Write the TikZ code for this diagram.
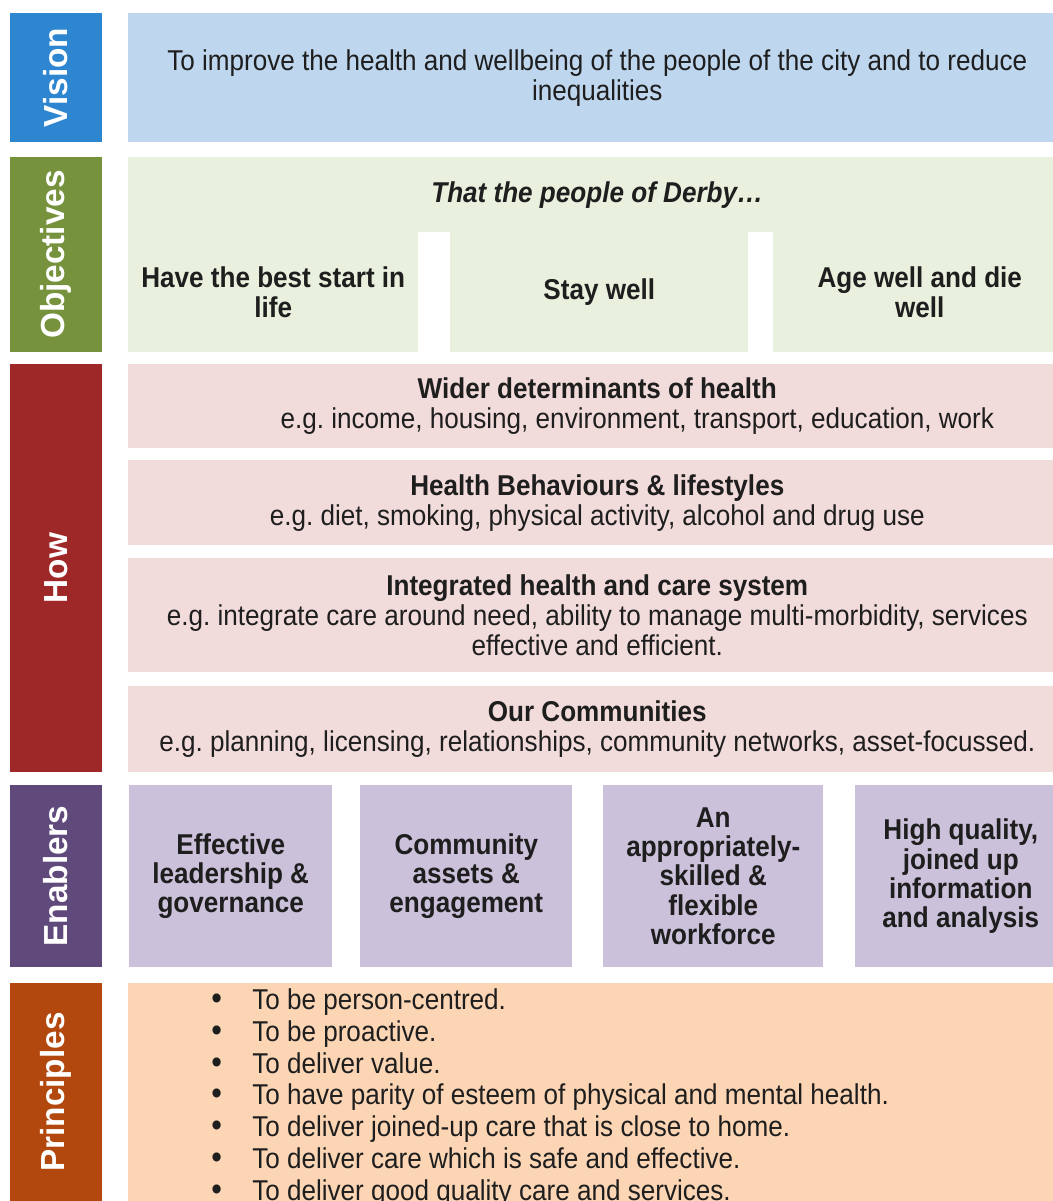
\documentclass[tikz,border=0pt]{standalone}
\usepackage{fontspec}
\setmainfont{Liberation Sans}[FakeStretch=0.91]
\newfontfamily\barfont{Liberation Sans}
\usetikzlibrary{positioning}

\definecolor{visionbar}{RGB}{46,134,208}
\definecolor{visionfill}{RGB}{190,214,238}
\definecolor{objbar}{RGB}{118,146,60}
\definecolor{objfill}{RGB}{234,240,222}
\definecolor{howbar}{RGB}{158,40,40}
\definecolor{howfill}{RGB}{242,220,219}
\definecolor{enabbar}{RGB}{96,74,123}
\definecolor{enabfill}{RGB}{204,193,218}
\definecolor{princbar}{RGB}{178,72,14}
\definecolor{princfill}{RGB}{252,213,181}
\definecolor{ink}{RGB}{30,30,30}

\newcommand{\pitem}{\makebox[30.75pt][l]{\smash{\fontsize{25}{24}\selectfont\textbullet}}}
\frenchspacing

\begin{document}
\begin{tikzpicture}[x=0.75pt,y=-0.75pt,
  every node/.style={inner sep=0pt,text=ink,font=\fontsize{21.5}{22.5}\selectfont},
  panel/.style n args={3}{anchor=north west,fill=#1,minimum width=#2*0.75pt,minimum height=#3*0.75pt,align=center},
  bar/.style n args={2}{fill=#1,rotate=90,minimum width=#2*0.75pt,minimum height=92*0.75pt,
    text=white,font=\barfont\fontsize{25}{28}\selectfont\bfseries},
  enab/.style={font=\fontsize{21.5}{22}\selectfont\bfseries}]
  \useasboundingbox (0,0) rectangle (1052,1201);

  % side bars
  \node (vbar) [bar={visionbar}{129}] at (56,77.5) {Vision};
  \node (obar) [bar={objbar}{195}] at (56,254.5) {Objectives};
  \node (hbar) [bar={howbar}{408}] at (56,568) {How};
  \node (ebar) [bar={enabbar}{182}] at (56,876) {Enablers};
  \node (pbar) [bar={princbar}{232}] at (56,1099) {\hspace*{10.5pt}Principles};

  % vision
  \node (vision) [panel={visionfill}{938}{129}] at (128,13)
    {To improve the health and wellbeing of the people of the city and to reduce\\inequalities};

  % objectives
  \node (objtop) [panel={objfill}{938}{75}] at (128,157) {\bfseries\itshape That the people of Derby…};
  \node (obj1) [panel={objfill}{290}{120}] at (128,232) {\bfseries Have the best start in\\\bfseries life};
  \node (obj2) [panel={objfill}{298}{120}] at (450,232) {\bfseries Stay well};
  \node (obj3) [panel={objfill}{293}{120}] at (773,232) {\bfseries Age well and die\\\bfseries well};

  % how
  \node (how1) [panel={howfill}{938}{84}] at (128,364)
    {\bfseries Wider determinants of health\\\hspace*{60pt}e.g. income, housing, environment, transport, education, work};
  \node (how2) [panel={howfill}{938}{85}] at (128,460)
    {\bfseries Health Behaviours \& lifestyles\\e.g. diet, smoking, physical activity, alcohol and drug use};
  \node (how3) [panel={howfill}{938}{114}] at (128,558)
    {\bfseries Integrated health and care system\\e.g. integrate care around need, ability to manage multi-morbidity, services\\effective and efficient.};
  \node (how4) [panel={howfill}{938}{86}] at (128,686)
    {\bfseries Our Communities\\e.g. planning, licensing, relationships, community networks, asset-focussed.};

  % enablers
  \node (en1) [panel={enabfill}{203}{182},enab] at (129,785) {Effective\\leadership \&\\governance};
  \node (en2) [panel={enabfill}{212}{182},enab] at (360,785) {Community\\assets \&\\engagement};
  \node (en3) [panel={enabfill}{220}{182},enab] at (603,785) {An\\appropriately-\\skilled \&\\flexible\\workforce};
  \node (en4) [panel={enabfill}{211}{182},enab] at (855,785) {High quality,\\joined up\\information\\and analysis};

  % principles
  \node (princ) [panel={princfill}{938}{240}] at (128,983) {};
  \node (plist) [anchor=base west,align=left,font=\fontsize{21.5}{23.8}\selectfont] at (211,1200)
    {\pitem To be person-centred.\\
     \pitem To be proactive.\\
     \pitem To deliver value.\\
     \pitem To have parity of esteem of physical and mental health.\\
     \pitem To deliver joined-up care that is close to home.\\
     \pitem To deliver care which is safe and effective.\\
     \pitem To deliver good quality care and services.};
\end{tikzpicture}
\end{document}
